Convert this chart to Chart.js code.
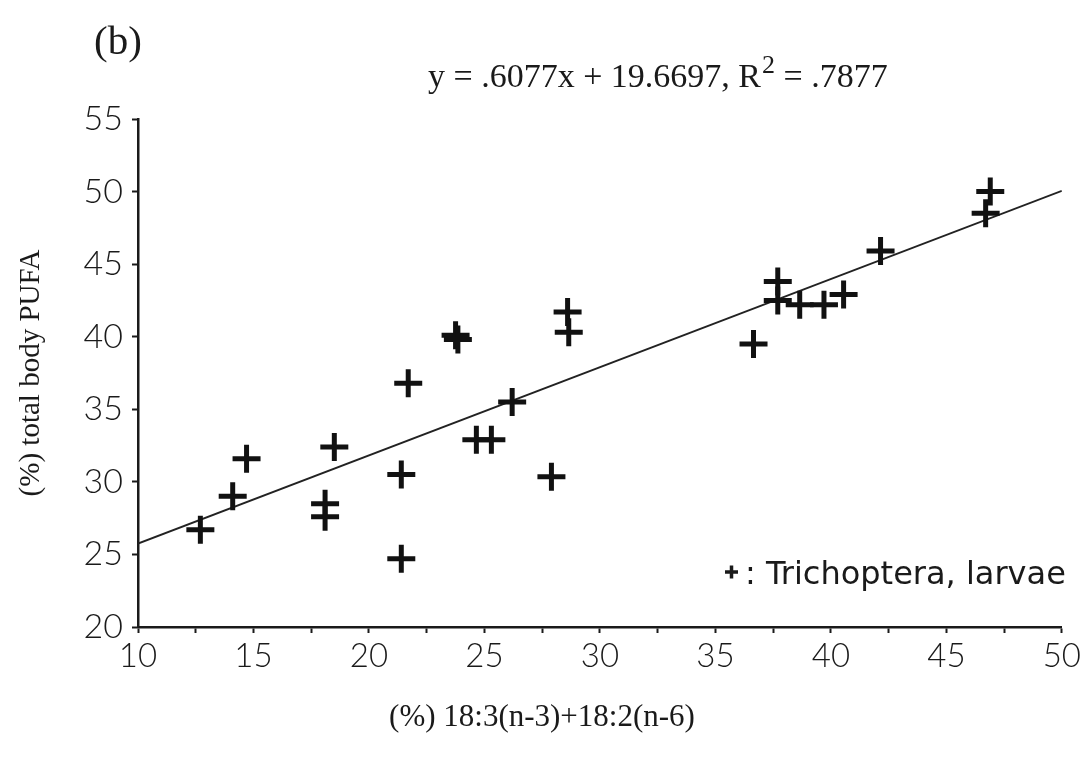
<!DOCTYPE html>
<html>
<head>
<meta charset="utf-8">
<script src="https://cdn.jsdelivr.net/npm/chart.js@4/dist/chart.umd.min.js"></script>
<style>
  html, body { margin: 0; padding: 0; background: #fff; }
  #wrap { width: 1085px; height: 766px; position: relative; }
</style>
</head>
<body>
<div id="wrap"><canvas id="pufa_canvas" width="1085" height="766"></canvas></div>
<script>
// Trichoptera larvae: C18 PUFA share vs total body PUFA
const pufa_x = [12.7, 14.1, 14.7, 18.1, 18.1, 18.5, 21.4, 21.4, 21.7, 23.75, 23.85, 24.65, 25.3,
  26.2, 27.9, 28.6, 28.65, 36.65, 37.7, 37.7, 38.65, 39.7, 40.55, 42.15, 46.7, 46.9]
const pufa_y = [26.7, 29.0, 31.6, 28.5, 27.6, 32.4, 30.5, 24.7, 36.8, 40.1, 39.8, 32.9, 32.9,
  35.5, 30.35, 41.7, 40.3, 39.5, 43.8, 42.5, 42.2, 42.2, 42.9, 45.9, 48.5, 50.0]

// fitted line end points
const fit_x = [10, 50]
const fit_y = [25.75, 50.05]

const x_range = [10, 50]
const y_range = [20, 55]

const panel_label = "(b)"
const equation_main = "y = .6077x + 19.6697, R"
const equation_sup = "2"
const equation_tail = " = .7877"
const legend_text = ": Trichoptera, larvae"
const x_title = "(%) 18:3(n-3)+18:2(n-6)"

const serif = "'Liberation Serif', 'DejaVu Serif', serif"
const sans = "Lato, 'Open Sans', sans-serif"
const key_font = "'DejaVu Sans', 'Liberation Sans', sans-serif"

function to_points(xs, ys) {
  return xs.map((x, i) => ({ x: x, y: ys[i] }))
}

// plain text on top of the chart: panel letter, equation, key, x title
const text_plugin = {
  id: "text_plugin",
  afterDraw(chart) {
    const ctx = chart.ctx
    ctx.save()
    ctx.fillStyle = "#1a1a1a"
    ctx.textBaseline = "alphabetic"

    ctx.font = "41px " + serif
    ctx.fillText(panel_label, 94, 54)

    ctx.font = "34px " + serif
    let x = 428
    ctx.fillText(equation_main, x, 87)
    x += ctx.measureText(equation_main).width + 1
    ctx.font = "26px " + serif
    ctx.fillText(equation_sup, x, 73)
    x += ctx.measureText(equation_sup).width
    ctx.font = "34px " + serif
    ctx.fillText(equation_tail, x, 87)

    // small bold plus for the key
    ctx.strokeStyle = "#1a1a1a"
    ctx.lineWidth = 3.5
    ctx.beginPath()
    ctx.moveTo(725, 572); ctx.lineTo(738, 572)
    ctx.moveTo(731.5, 565.5); ctx.lineTo(731.5, 578.5)
    ctx.stroke()
    ctx.font = "32px " + key_font
    ctx.fillText(legend_text, 745, 584)

    ctx.font = "31px " + serif
    ctx.textAlign = "center"
    ctx.fillText(x_title, 542, 726)
    ctx.restore()
  }
}

window.addEventListener("DOMContentLoaded", () => {
  const config = {
    type: "scatter",
    data: {
      datasets: [
        {
          label: "Trichoptera, larvae",
          data: to_points(pufa_x, pufa_y),
          pointStyle: "cross",
          pointRadius: 14,
          pointBorderWidth: 5,
          borderColor: "#111",
          backgroundColor: "#111",
        },
        {
          type: "line",
          label: "fit",
          data: to_points(fit_x, fit_y),
          borderColor: "#222",
          borderWidth: 2,
          pointRadius: 0,
          fill: false,
        },
      ],
    },
    options: {
      responsive: false,
      animation: false,
      layout: { padding: { top: 119, right: 22, left: 0, bottom: 0 } },
      plugins: {
        legend: { display: false },
        tooltip: { enabled: false },
      },
      scales: {
        x: {
          type: "linear",
          min: x_range[0],
          max: x_range[1],
          afterFit: (s) => { s.height = 139 },
          border: { display: true, color: "#1a1a1a", width: 2.5 },
          grid: { drawOnChartArea: false, drawTicks: true, tickLength: 6, tickColor: "#1a1a1a", tickWidth: 2 },
          ticks: {
            stepSize: 2.5,
            autoSkip: false,
            maxRotation: 0,
            padding: 4,
            color: "#1a1a1a",
            font: { family: sans, size: 33, weight: "300" },
            callback: (v) => (v % 5 === 0 ? v : ""),
          },
        },
        y: {
          type: "linear",
          min: y_range[0],
          max: y_range[1],
          afterFit: (s) => { s.width = 138 },
          border: { display: true, color: "#1a1a1a", width: 2.5 },
          grid: { drawOnChartArea: false, drawTicks: true, tickLength: 6, tickColor: "#1a1a1a", tickWidth: 2 },
          ticks: {
            stepSize: 5,
            padding: 9,
            color: "#1a1a1a",
            font: { family: sans, size: 34, weight: "300" },
          },
          title: {
            display: true,
            text: "(%) total body PUFA",
            color: "#1a1a1a",
            font: { family: serif, size: 29 },
            padding: { top: 14, bottom: 0 },
          },
        },
      },
    },
    plugins: [text_plugin],
  }

  new Chart(document.getElementById("pufa_canvas").getContext("2d"), config)
});
</script>
</body>
</html>
